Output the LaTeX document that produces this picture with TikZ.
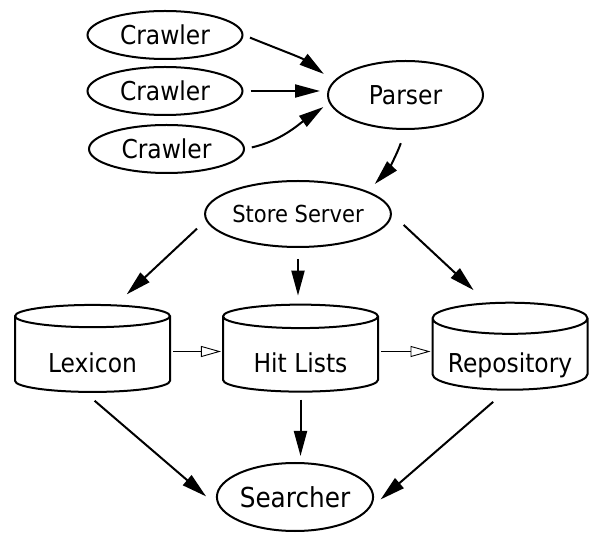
\documentclass[tikz,border=0pt]{standalone}
\usepackage{fontspec}
\setmainfont{DejaVu Sans}[FakeStretch=0.9]
\usetikzlibrary{shapes.geometric, arrows.meta}

\begin{document}
\begin{tikzpicture}[x=1pt, y=1pt,
        proc/.style={draw, ellipse, line width=2pt, inner sep=0pt,
            minimum width=155pt, minimum height=68pt, font=\fontsize{26}{30}\selectfont},
        db/.style={draw, cylinder, shape border rotate=90, aspect=0.25, line width=2pt,
            inner sep=0pt, minimum width=155pt, minimum height=87pt,
            text height=37pt, text depth=0pt, font=\fontsize{26}{30}\selectfont},
        flow/.style={line width=2pt, -{Triangle[length=25pt, width=13pt]}},
        feed/.style={line width=0.9pt, -{Triangle[open, length=20pt, width=11pt]}}]
    \useasboundingbox (0, 0) rectangle (589, 533);

    % crawlers and parser
    \node[proc, minimum height=48pt] (crawlerA) at (165, 498) {Crawler};
    \node[proc, minimum height=48pt] (crawlerB) at (165, 442) {Crawler};
    \node[proc, minimum height=48pt] (crawlerC) at (166.5, 384) {Crawler};
    \node[proc] (parser) at (405.5, 438) {Parser};
    \node[proc, minimum height=66pt, font=\fontsize{23.4}{28}\selectfont] (store) at (298, 319) {Store Server};

    % storage
    \node[db] (lexicon) at (92.5, 178.5) {Lexicon};
    \node[db] (hitlists) at (300.5, 178.5) {Hit Lists};
    \node[db] (repository) at (510, 178.5) {Repository};

    \node[proc, font=\fontsize{27.5}{32}\selectfont] (searcher) at (295, 36) {Searcher};

    \draw[flow, shorten <=7pt, shorten >=12pt] (crawlerA.east) to[out=-22, in=144] (parser.169);
    \draw[flow, shorten <=7pt, shorten >=7pt] (crawlerB.east) -- (crawlerB.east -| parser.west);
    \draw[flow, shorten <=7pt, shorten >=7pt] (crawlerC.east) to[out=13, in=215] (parser.186);
    \draw[flow, shorten <=14pt, shorten >=10pt] (parser.south) to[bend left=12] (store.18);

    \draw[flow, shorten <=12pt, shorten >=14pt] (store.184) -- ([xshift=24pt]lexicon.north);
    \draw[flow, shorten <=11pt, shorten >=8pt] (store.south) -- (store.south |- hitlists.north);
    \draw[flow, shorten <=16pt, shorten >=17pt] (store.east) -- ([xshift=-24pt]repository.north);

    \draw[feed, shorten <=2pt, shorten >=1pt] ([yshift=3pt]lexicon.east) -- ([yshift=3pt]hitlists.west);
    \draw[feed, shorten <=2pt, shorten >=1pt] ([yshift=3pt]hitlists.east) -- ([yshift=3pt]repository.west);

    \draw[flow, shorten <=12pt, shorten >=19pt] ([xshift=-7pt]lexicon.south) -- (searcher.189);
    \draw[flow, shorten <=7pt, shorten >=6pt] (hitlists.south) -- (hitlists.south |- searcher.north);
    \draw[flow, shorten <=17pt, shorten >=16pt] ([xshift=-4pt]repository.south) -- (searcher.-10);
\end{tikzpicture}
\end{document}
